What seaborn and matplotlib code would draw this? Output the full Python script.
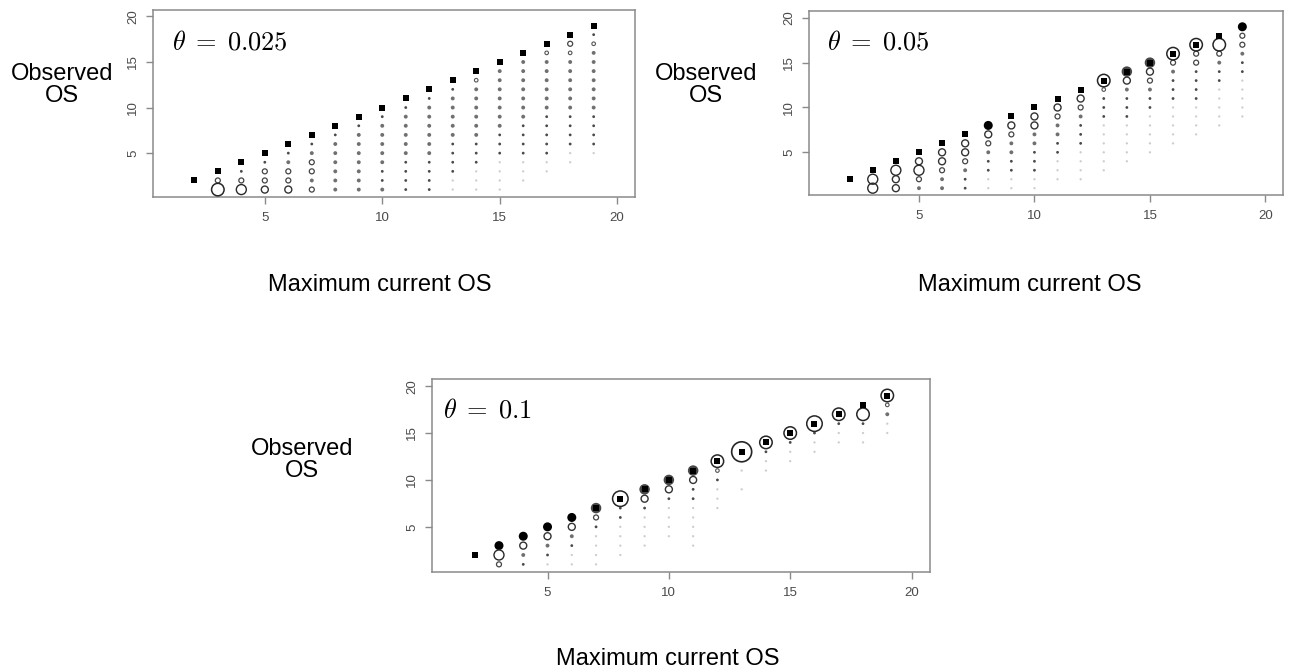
import matplotlib
matplotlib.use("Agg")
import matplotlib.pyplot as plt
import numpy as np
import pandas as pd
import seaborn as sns

thetas = ["0.025", "0.05", "0.1"]
max_os = list(range(2, 20))

# one string per column (max current OS = 2..19), read from y = x downward.
# S = square, D = filled disc, R = open ring, F = small dot, . = nothing;
# the digit is the weight (bigger / darker = more)
cols_025 = [
    "S",
    "S R2 R5",
    "S F2 R2 R4",
    "S F2 R2 R2 R3",
    "S F2 F3 R2 R2 R3",
    "S F2 F3 R2 R2 F3 R2",
    "S F2 F3 F3 F3 F3 F3 F3",
    "S F2 F3 F3 F3 F3 F3 F3 F3",
    "S F2 F3 F3 F3 F3 F3 F2 F2 F3",
    "S F2 F3 F3 F3 F3 F3 F2 F2 F2 F2",
    "S F2 F3 F3 F3 F3 F3 F3 F2 F2 F2 F2",
    "S F2 F3 F3 F3 F3 F3 F2 F2 F2 F2 F1 F1",
    "S R1 F3 F3 F3 F3 F3 F3 F2 F2 F2 F1 F1 F1",
    "S F3 F3 F3 F3 F3 F3 F3 F2 F2 F2 F1 F1 F1 F1",
    "S F3 F3 F3 F3 F3 F3 F3 F2 F2 F2 F2 F1 F1 F1",
    "S R1 F3 F3 F3 F3 F3 F3 F2 F2 F2 F2 F2 F1 F1",
    "S R2 R1 F3 F3 F3 F3 F3 F3 F2 F2 F2 F2 F1 F1",
    "S F2 R1 F3 F3 F3 F3 F3 F3 F3 F2 F2 F2 F2 F1",
]
cols_05 = [
    "S",
    "S R4 R4",
    "S R4 R3 R3",
    "S R3 R4 R2 F3",
    "S R3 R3 R2 F3 F3",
    "S R3 R3 R2 F3 F2 F2",
    "D5+S R3 R2 F3 F2 F2 F1 F1",
    "S R3 R2 F3 F3 F2 F2 F1 F1",
    "S R3 R3 F3 F3 F2 F2 F2 F1 F1",
    "S R3 R2 F3 F3 F2 F2 F1 F1 F1",
    "S R3 R2 F3 F2 F2 F2 F1 F1 F1 F1",
    "R5+S R1 F2 F2 F2 F1 F1 F1 F1 F1 F1",
    "D4+S R3 F3 F2 F2 F2 F1 F1 F1 F1 F1",
    "D4+S R3 R2 F3 F2 F2 F1 F1 F1 F1 F1",
    "R5+S R2 F3 F2 F2 F2 F1 F1 F1 F1 F1",
    "R5+S R2 R2 F2 F2 F2 F2 F1 F1 F1 F1",
    "S R5 R2 F3 F2 F2 F1 F1 F1 F1 F1",
    "D5 R2 R2 F3 F2 F2 F1 F1 F1 F1 F1",
]
cols_1 = [
    "S",
    "D5 R4 R2",
    "D5 R3 F3 F2",
    "D5 R3 F3 F2 F1",
    "D5 R3 F3 F2 F1 F1",
    "D4+S R2 F2 F1 F1 F1 F1",
    "R6+S F2 F2 F1 F1 F1 F1",
    "D4+S R3 F2 F1 F1 F1 F1",
    "D4+S R3 F2 F1 F1 F1 F1",
    "D4+S R3 F2 F2 F1 F1 F1 F1 F1",
    "R5+S R1 F2 F1 F1 F1",
    "R7+S . F1 . F1",
    "R5+S F2 F1 F1",
    "R5+S F2 F1 F1",
    "R6+S F2 F1 F1",
    "R5+S F2 F1 F1",
    "S R5 F2 F1 F1",
    "R5+S R1 F3 F1 F1",
]


def to_frame(cols):
    rows = []
    for x, col in zip(max_os, cols):
        for j, tok in enumerate(col.split()):
            for part in tok.split("+"):
                if part == ".":
                    continue
                rows.append((x, x - j, part))
    return pd.DataFrame(rows, columns=["x", "y", "code"])


def px2s(d):
    # marker diameter in pixels -> scatter size in pt^2 (dpi 100)
    return (d * 0.72) ** 2


# code -> marker, diameter px, face, edge, linewidth, zorder
styles = {
    "F1": ("o", 2.3, "#cdcdcd", "none", 0, 3),
    "F2": ("o", 2.8, "#4a4a4a", "none", 0, 3),
    "F3": ("o", 3.9, "#707070", "none", 0, 3),
    "R1": ("o", 3.6, "none", "#555555", 0.8, 3),
    "R2": ("o", 5.0, "none", "#444444", 0.9, 3),
    "R3": ("o", 7.0, "none", "#333333", 1.0, 3),
    "R4": ("o", 10.0, "none", "#2a2a2a", 1.0, 3),
    "R5": ("o", 12.5, "none", "#262626", 1.1, 3),
    "R6": ("o", 15.5, "none", "#262626", 1.1, 3),
    "R7": ("o", 20.0, "none", "#262626", 1.2, 3),
    "D4": ("o", 10.5, "#474747", "none", 0, 2),
    "D5": ("o", 9.0, "#000000", "none", 0, 2),
    "S": ("s", 6.0, "#000000", "none", 0, 4),
}

sns.set_theme(style="white")
plt.rcParams["font.family"] = ["Liberation Sans", "DejaVu Sans"]
plt.rcParams["mathtext.fontset"] = "cm"
plt.rcParams["text.color"] = "black"

W, H = 1290, 670
fig = plt.figure(figsize=(W / 100, H / 100), dpi=100)

# axes boxes in pixels: left, right, top, bottom
boxes = [(153, 635, 9.5, 196.5), (809, 1283, 11, 195), (432, 930, 379, 571.5)]
ylab_pos = [(62, 85), (706, 85), (302, 460)]
xlab_pos = [(380, 285), (1030, 285), (668, 659)]
theta_pos = [(172, 43), (827, 43), (443, 410)]

for k, cols in enumerate([cols_025, cols_05, cols_1]):
    l, r, t, b = boxes[k]
    ax = fig.add_axes([l / W, 1 - b / H, (r - l) / W, (b - t) / H])
    df = to_frame(cols)
    for code, (mk, d, fc, ec, lw, z) in styles.items():
        sub = df[df["code"] == code]
        if sub.empty:
            continue
        sns.scatterplot(data=sub, x="x", y="y", marker=mk, s=px2s(d),
                        color=fc, edgecolor=ec, linewidth=lw, zorder=z,
                        legend=False, ax=ax)
    ax.set_xlim(0.24, 20.76)
    ax.set_ylim(0.24, 20.76)
    ax.set_xticks([5, 10, 15, 20])
    ax.set_yticks([5, 10, 15, 20])
    ax.set_xlabel("")
    ax.set_ylabel("")
    for sp in ax.spines.values():
        sp.set_color("#8a8a8a")
        sp.set_linewidth(1.1)
    ax.tick_params(axis="both", length=5, width=1, color="#8a8a8a",
                   labelsize=9.5, labelcolor="#4a4a4a", left=True, bottom=True)
    ax.tick_params(axis="x", pad=6)
    ax.tick_params(axis="y", pad=5)
    plt.setp(ax.get_yticklabels(), rotation=90, va="center")

    tx, ty = theta_pos[k]
    fig.text(tx / W, 1 - ty / H, r"$\theta\;=\;" + thetas[k] + "$",
             fontsize=19, ha="left", va="center", color="black")
    cx, cy = ylab_pos[k]
    fig.text(cx / W, 1 - cy / H, "Observed\nOS", fontsize=17, color="black",
             ha="center", va="center", multialignment="center", linespacing=1.0)
    cx, cy = xlab_pos[k]
    fig.text(cx / W, 1 - cy / H, "Maximum current OS", fontsize=17,
             color="black", ha="center", va="center")

fig.savefig("out.png", dpi=100)
